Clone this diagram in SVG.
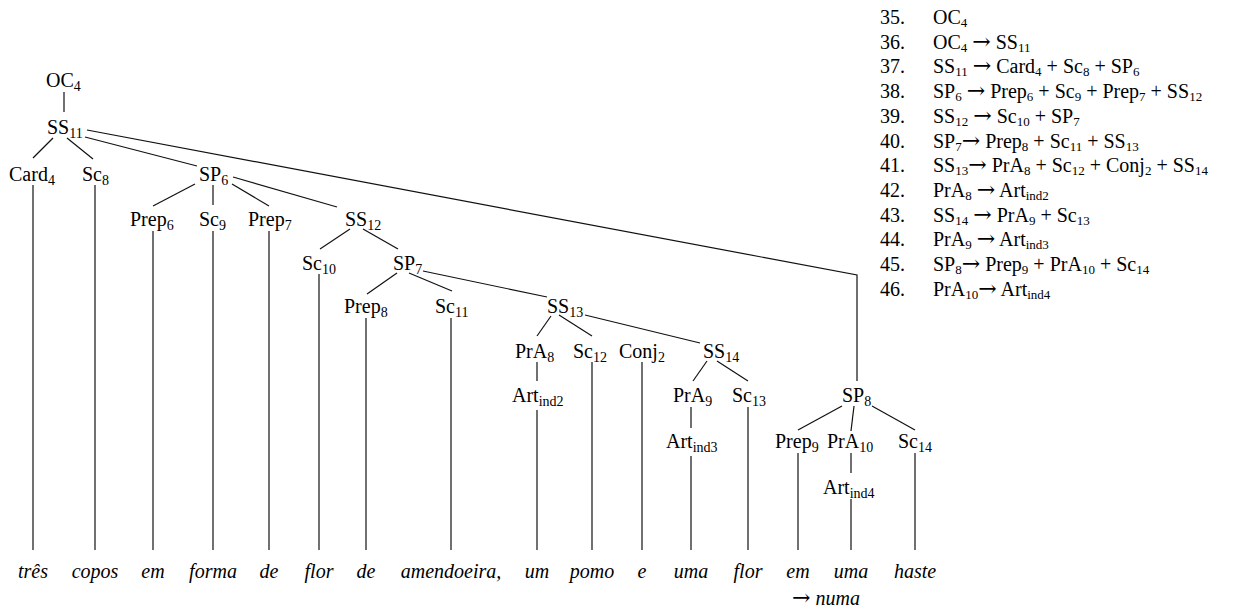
<svg xmlns="http://www.w3.org/2000/svg" width="1238" height="608" viewBox="0 0 1238 608">
<style>
.t{font-family:"Liberation Serif","Times New Roman",serif;font-size:20px;fill:#000}
.s{font-size:14px}
.w{font-family:"Liberation Serif","Times New Roman",serif;font-style:italic;font-size:20px;fill:#000;text-anchor:middle}
.l{font-family:"Liberation Serif","Times New Roman",serif;font-size:20px;fill:#000}
.ls{font-size:13px}
.ar{font-family:"DejaVu Serif",serif;font-size:22px;font-style:normal}
.e{stroke:#111;stroke-width:1.2;fill:none}
</style>
<rect width="1238" height="608" fill="#fff"/>
<g id="edges" class="e">
<line x1="64" y1="92" x2="64" y2="112"/>
<line x1="53" y1="138" x2="33" y2="158"/>
<line x1="67" y1="138" x2="93" y2="159"/>
<line x1="85" y1="137" x2="197" y2="166"/>
<polyline points="87,130 857,275 857,381"/>
<line x1="195" y1="184" x2="153" y2="206"/>
<line x1="213" y1="185" x2="213" y2="205"/>
<line x1="232" y1="184" x2="269" y2="206"/>
<line x1="233" y1="177" x2="337" y2="207"/>
<line x1="350" y1="229" x2="320" y2="249"/>
<line x1="363" y1="229" x2="398" y2="249"/>
<line x1="397" y1="273" x2="367" y2="294"/>
<line x1="409" y1="273" x2="452" y2="291"/>
<line x1="423" y1="271" x2="547" y2="297"/>
<line x1="551" y1="316" x2="537" y2="336"/>
<line x1="559" y1="315" x2="592" y2="336"/>
<line x1="585" y1="315" x2="700" y2="343"/>
<line x1="707" y1="361" x2="693" y2="381"/>
<line x1="717" y1="361" x2="748" y2="381"/>
<line x1="842" y1="406" x2="798" y2="430"/>
<line x1="854" y1="406" x2="851" y2="431"/>
<line x1="872" y1="406" x2="915" y2="430"/>
<line x1="33" y1="185" x2="33" y2="550"/>
<line x1="95" y1="185" x2="95" y2="550"/>
<line x1="153" y1="231" x2="153" y2="550"/>
<line x1="213" y1="231" x2="213" y2="550"/>
<line x1="269" y1="231" x2="269" y2="550"/>
<line x1="319" y1="274" x2="319" y2="550"/>
<line x1="366" y1="318" x2="366" y2="550"/>
<line x1="451" y1="318" x2="451" y2="550"/>
<line x1="537" y1="362" x2="537" y2="381"/>
<line x1="537" y1="410" x2="537" y2="550"/>
<line x1="592" y1="362" x2="592" y2="550"/>
<line x1="642" y1="362" x2="642" y2="550"/>
<line x1="691" y1="407" x2="691" y2="428"/>
<line x1="691" y1="456" x2="691" y2="550"/>
<line x1="748" y1="407" x2="748" y2="550"/>
<line x1="798" y1="453" x2="798" y2="550"/>
<line x1="851" y1="453" x2="851" y2="473"/>
<line x1="851" y1="499" x2="851" y2="550"/>
<line x1="915" y1="453" x2="915" y2="550"/>
</g>
<g id="n-OC4"><text class="t" x="46" y="87">OC<tspan class="s" dy="4">4</tspan></text></g>
<g id="n-SS11"><text class="t" x="47" y="134">SS<tspan class="s" dy="4">11</tspan></text></g>
<g id="n-Card4"><text class="t" x="9" y="181">Card<tspan class="s" dy="4">4</tspan></text></g>
<g id="n-Sc8"><text class="t" x="82" y="181">Sc<tspan class="s" dy="4">8</tspan></text></g>
<g id="n-SP6"><text class="t" x="199" y="181">SP<tspan class="s" dy="4">6</tspan></text></g>
<g id="n-Prep6"><text class="t" x="130" y="226">Prep<tspan class="s" dy="4">6</tspan></text></g>
<g id="n-Sc9"><text class="t" x="199" y="226">Sc<tspan class="s" dy="4">9</tspan></text></g>
<g id="n-Prep7"><text class="t" x="248" y="226">Prep<tspan class="s" dy="4">7</tspan></text></g>
<g id="n-SS12"><text class="t" x="345" y="226">SS<tspan class="s" dy="4">12</tspan></text></g>
<g id="n-Sc10"><text class="t" x="302" y="270">Sc<tspan class="s" dy="4">10</tspan></text></g>
<g id="n-SP7"><text class="t" x="393" y="270">SP<tspan class="s" dy="4">7</tspan></text></g>
<g id="n-Prep8"><text class="t" x="344" y="313">Prep<tspan class="s" dy="4">8</tspan></text></g>
<g id="n-Sc11"><text class="t" x="435" y="313">Sc<tspan class="s" dy="4">11</tspan></text></g>
<g id="n-SS13"><text class="t" x="547" y="313">SS<tspan class="s" dy="4">13</tspan></text></g>
<g id="n-PrA8"><text class="t" x="515" y="358">PrA<tspan class="s" dy="4">8</tspan></text></g>
<g id="n-Sc12"><text class="t" x="573" y="358">Sc<tspan class="s" dy="4">12</tspan></text></g>
<g id="n-Conj2"><text class="t" x="619" y="358">Conj<tspan class="s" dy="4">2</tspan></text></g>
<g id="n-SS14"><text class="t" x="703" y="358">SS<tspan class="s" dy="4">14</tspan></text></g>
<g id="n-Artind2"><text class="t" x="512" y="402">Art<tspan class="s" dy="4">ind2</tspan></text></g>
<g id="n-PrA9"><text class="t" x="673" y="402">PrA<tspan class="s" dy="4">9</tspan></text></g>
<g id="n-Sc13"><text class="t" x="732" y="402">Sc<tspan class="s" dy="4">13</tspan></text></g>
<g id="n-SP8"><text class="t" x="842" y="402">SP<tspan class="s" dy="4">8</tspan></text></g>
<g id="n-Artind3"><text class="t" x="666" y="448">Art<tspan class="s" dy="4">ind3</tspan></text></g>
<g id="n-Prep9"><text class="t" x="775" y="448">Prep<tspan class="s" dy="4">9</tspan></text></g>
<g id="n-PrA10"><text class="t" x="827" y="448">PrA<tspan class="s" dy="4">10</tspan></text></g>
<g id="n-Sc14"><text class="t" x="898" y="448">Sc<tspan class="s" dy="4">14</tspan></text></g>
<g id="n-Artind4"><text class="t" x="823" y="494">Art<tspan class="s" dy="4">ind4</tspan></text></g>
<g id="w-tres"><text class="w" x="33" y="578">três</text></g>
<g id="w-copos"><text class="w" x="95" y="578">copos</text></g>
<g id="w-em1"><text class="w" x="153" y="578">em</text></g>
<g id="w-forma"><text class="w" x="213" y="578">forma</text></g>
<g id="w-de1"><text class="w" x="269" y="578">de</text></g>
<g id="w-flor1"><text class="w" x="319" y="578">flor</text></g>
<g id="w-de2"><text class="w" x="366" y="578">de</text></g>
<g id="w-amendoeira"><text class="w" x="451" y="578">amendoeira,</text></g>
<g id="w-um"><text class="w" x="537" y="578">um</text></g>
<g id="w-pomo"><text class="w" x="592" y="578">pomo</text></g>
<g id="w-e"><text class="w" x="642" y="578">e</text></g>
<g id="w-uma1"><text class="w" x="691" y="578">uma</text></g>
<g id="w-flor2"><text class="w" x="748" y="578">flor</text></g>
<g id="w-em2"><text class="w" x="798" y="578">em</text></g>
<g id="w-uma2"><text class="w" x="851" y="578">uma</text></g>
<g id="w-haste"><text class="w" x="915" y="578">haste</text></g>
<g id="w-numa"><text class="w" x="792" y="605" style="text-anchor:start"><tspan class="ar">→</tspan> numa</text></g>
<g id="rules" class="l">
<text x="880" y="24">35.</text>
<text x="933" y="24">OC<tspan class="ls" dy="3">4</tspan></text>
<text x="880" y="48.7">36.</text>
<text x="933" y="48.7">OC<tspan class="ls" dy="3">4</tspan><tspan dy="-3"> </tspan><tspan class="ar">→</tspan> SS<tspan class="ls" dy="3">11</tspan></text>
<text x="880" y="73.4">37.</text>
<text x="933" y="73.4">SS<tspan class="ls" dy="3">11</tspan><tspan dy="-3"> </tspan><tspan class="ar">→</tspan> Card<tspan class="ls" dy="3">4</tspan><tspan dy="-3"> + Sc</tspan><tspan class="ls" dy="3">8</tspan><tspan dy="-3"> + SP</tspan><tspan class="ls" dy="3">6</tspan></text>
<text x="880" y="98.1">38.</text>
<text x="933" y="98.1">SP<tspan class="ls" dy="3">6</tspan><tspan dy="-3"> </tspan><tspan class="ar">→</tspan> Prep<tspan class="ls" dy="3">6</tspan><tspan dy="-3"> + Sc</tspan><tspan class="ls" dy="3">9</tspan><tspan dy="-3"> + Prep</tspan><tspan class="ls" dy="3">7</tspan><tspan dy="-3"> + SS</tspan><tspan class="ls" dy="3">12</tspan></text>
<text x="880" y="122.8">39.</text>
<text x="933" y="122.8">SS<tspan class="ls" dy="3">12</tspan><tspan dy="-3"> </tspan><tspan class="ar">→</tspan> Sc<tspan class="ls" dy="3">10</tspan><tspan dy="-3"> + SP</tspan><tspan class="ls" dy="3">7</tspan></text>
<text x="880" y="147.5">40.</text>
<text x="933" y="147.5">SP<tspan class="ls" dy="3">7</tspan><tspan class="ar" dy="-3">→</tspan> Prep<tspan class="ls" dy="3">8</tspan><tspan dy="-3"> + Sc</tspan><tspan class="ls" dy="3">11</tspan><tspan dy="-3"> + SS</tspan><tspan class="ls" dy="3">13</tspan></text>
<text x="880" y="172.2">41.</text>
<text x="933" y="172.2">SS<tspan class="ls" dy="3">13</tspan><tspan class="ar" dy="-3">→</tspan> PrA<tspan class="ls" dy="3">8</tspan><tspan dy="-3"> + Sc</tspan><tspan class="ls" dy="3">12</tspan><tspan dy="-3"> + Conj</tspan><tspan class="ls" dy="3">2</tspan><tspan dy="-3"> + SS</tspan><tspan class="ls" dy="3">14</tspan></text>
<text x="880" y="196.9">42.</text>
<text x="933" y="196.9">PrA<tspan class="ls" dy="3">8</tspan><tspan dy="-3"> </tspan><tspan class="ar">→</tspan> Art<tspan class="ls" dy="3">ind2</tspan></text>
<text x="880" y="221.6">43.</text>
<text x="933" y="221.6">SS<tspan class="ls" dy="3">14</tspan><tspan dy="-3"> </tspan><tspan class="ar">→</tspan> PrA<tspan class="ls" dy="3">9</tspan><tspan dy="-3"> + Sc</tspan><tspan class="ls" dy="3">13</tspan></text>
<text x="880" y="246.3">44.</text>
<text x="933" y="246.3">PrA<tspan class="ls" dy="3">9</tspan><tspan dy="-3"> </tspan><tspan class="ar">→</tspan> Art<tspan class="ls" dy="3">ind3</tspan></text>
<text x="880" y="271">45.</text>
<text x="933" y="271">SP<tspan class="ls" dy="3">8</tspan><tspan class="ar" dy="-3">→</tspan> Prep<tspan class="ls" dy="3">9</tspan><tspan dy="-3"> + PrA</tspan><tspan class="ls" dy="3">10</tspan><tspan dy="-3"> + Sc</tspan><tspan class="ls" dy="3">14</tspan></text>
<text x="880" y="295.7">46.</text>
<text x="933" y="295.7">PrA<tspan class="ls" dy="3">10</tspan><tspan class="ar" dy="-3">→</tspan> Art<tspan class="ls" dy="3">ind4</tspan></text>
</g>
</svg>
